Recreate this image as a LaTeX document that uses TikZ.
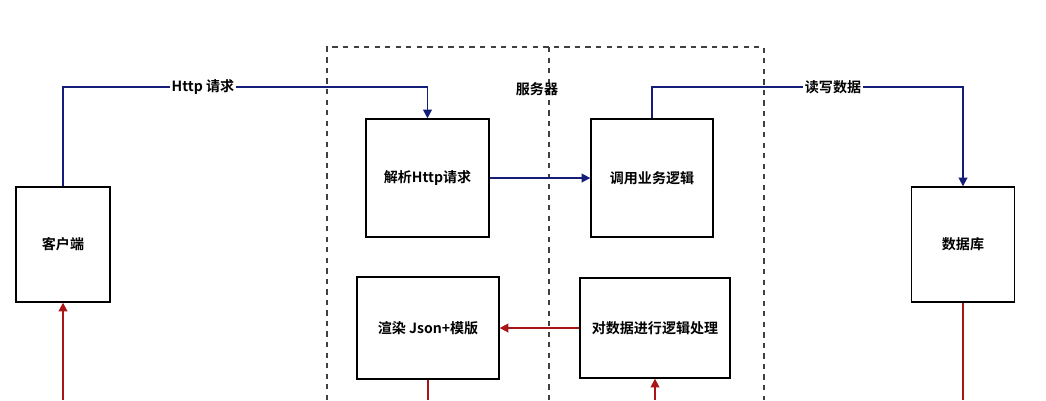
\documentclass[tikz,border=0pt]{standalone}
\usepackage{fontspec}
\newfontfamily\cjk{Noto Sans CJK SC}[BoldFont={* Bold}]
\usetikzlibrary{arrows.meta}

\definecolor{reqblue}{RGB}{20,30,120}
\definecolor{resred}{RGB}{170,20,20}

\begin{document}
\begin{tikzpicture}[x=0.02cm,y=-0.02cm,
	font=\cjk\bfseries\fontsize{8}{9}\selectfont,
	box/.style={draw, line width=0.8pt, inner sep=0pt},
	req/.style={draw=reqblue, line width=1pt, -{Triangle[length=5pt,width=5pt]}},
	res/.style={draw=resred, line width=1pt, -{Triangle[length=5pt,width=5pt]}},
	tag/.style={fill=white, inner sep=1pt}]

	\useasboundingbox (0,0) rectangle (1046,400);

	% the server frame
	\draw[dashed, line width=1pt, gray!50!black] (327,400) -- (327,47) -- (764,47) -- (764,400);
	\draw[dashed, line width=1pt, gray!50!black] (549,47) -- (549,400);
	\node (server) at (537,89) {服务器};

	% the boxes
	\node[box, minimum width=1.88cm, minimum height=2.3cm] (client) at (63,244.5) {客户端};
	\node[box, minimum width=2.06cm, minimum height=2.3cm] (db) at (963,244.5) {数据库};
	\node[box, minimum width=2.46cm, minimum height=2.36cm] (parse) at (427.5,178) {解析Http请求};
	\node[box, minimum width=2.44cm, minimum height=2.36cm] (call) at (652,178) {调用业务逻辑};
	\node[box, minimum width=2.84cm, minimum height=2.04cm] (render) at (428,328) {渲染 Json+模版};
	\node[box, minimum width=3.0cm, minimum height=2.0cm] (logic) at (655,328) {对数据进行逻辑处理};

	% free ends at the cut bottom edge
	\coordinate (cbot) at (63,400);
	\coordinate (rbot) at (428,400);
	\coordinate (dbot) at (963,400);
	\coordinate (lbot) at (655,400);

	% the requests
	\draw[req] (client.north) |- (parse.north |- 0,87) -- (parse.north);
	\node[tag] (httpreq) at (203,87) {Http 请求};
	\draw[req] (parse.east) -- (call.west);
	\draw[req] (call.north) |- (db.north |- 0,87) -- (db.north);
	\node[tag] (rw) at (833,87) {读写数据};

	% the answers
	\draw[res] (logic.west) -- (render.east);
	\draw[draw=resred, line width=1pt] (render.south) -- (rbot);
	\draw[draw=resred, line width=1pt] (db.south) -- (dbot);
	\draw[res] (cbot) -- (client.south);
	\draw[res] (lbot) -- (logic.south);

\end{tikzpicture}
\end{document}
